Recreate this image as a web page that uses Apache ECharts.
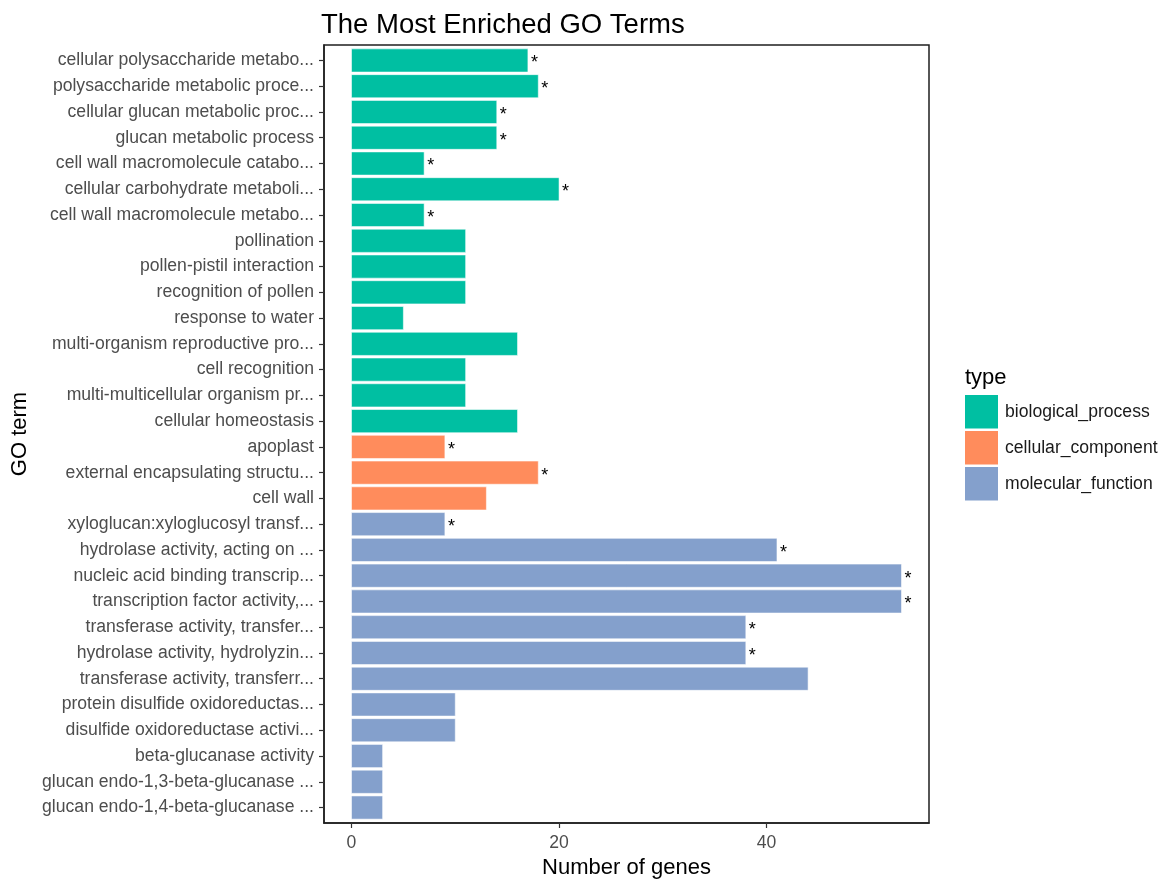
<!DOCTYPE html>
<html>
<head>
<meta charset="utf-8">
<title>The Most Enriched GO Terms</title>
<script src="https://cdn.jsdelivr.net/npm/echarts@6/dist/echarts.min.js"></script>
<style>
  html, body { margin: 0; padding: 0; background: #ffffff; }
  #chart { width: 1163px; height: 879px; }
</style>
</head>
<body>
<div id="chart"></div>
<script>
// GO terms, top to bottom
const terms = [
  'cellular polysaccharide metabo...',
  'polysaccharide metabolic proce...',
  'cellular glucan metabolic proc...',
  'glucan metabolic process',
  'cell wall macromolecule catabo...',
  'cellular carbohydrate metaboli...',
  'cell wall macromolecule metabo...',
  'pollination',
  'pollen-pistil interaction',
  'recognition of pollen',
  'response to water',
  'multi-organism reproductive pro...',
  'cell recognition',
  'multi-multicellular organism pr...',
  'cellular homeostasis',
  'apoplast',
  'external encapsulating structu...',
  'cell wall',
  'xyloglucan:xyloglucosyl transf...',
  'hydrolase activity, acting on ...',
  'nucleic acid binding transcrip...',
  'transcription factor activity,...',
  'transferase activity, transfer...',
  'hydrolase activity, hydrolyzin...',
  'transferase activity, transferr...',
  'protein disulfide oxidoreductas...',
  'disulfide oxidoreductase activi...',
  'beta-glucanase activity',
  'glucan endo-1,3-beta-glucanase ...',
  'glucan endo-1,4-beta-glucanase ...'
];

// Number of genes per term
const geneCounts = [17, 18, 14, 14, 7, 20, 7, 11, 11, 11, 5, 16, 11, 11, 16,
                    9, 18, 13,
                    9, 41, 53, 53, 38, 38, 44, 10, 10, 3, 3, 3];

// GO category of each term
const termTypes = [
  'biological_process', 'biological_process', 'biological_process', 'biological_process',
  'biological_process', 'biological_process', 'biological_process', 'biological_process',
  'biological_process', 'biological_process', 'biological_process', 'biological_process',
  'biological_process', 'biological_process', 'biological_process',
  'cellular_component', 'cellular_component', 'cellular_component',
  'molecular_function', 'molecular_function', 'molecular_function', 'molecular_function',
  'molecular_function', 'molecular_function', 'molecular_function', 'molecular_function',
  'molecular_function', 'molecular_function', 'molecular_function', 'molecular_function'
];

// 1 = significantly enriched (marked with *)
const significant = [1, 1, 1, 1, 1, 1, 1, 0, 0, 0, 0, 0, 0, 0, 0,
                     1, 1, 0,
                     1, 1, 1, 1, 1, 1, 0, 0, 0, 0, 0, 0];

const typeNames = ['biological_process', 'cellular_component', 'molecular_function'];
const typeColors = ['#00BFA2', '#FF8C5C', '#84A0CC'];

const xTicks = [0, 20, 40];

// axis ranges padded like ggplot's default expansion
const xMax = Math.max(...geneCounts);
const xPad = xMax * 0.05;
const yIdx = terms.map((_, i) => i);

const FONT = '"Liberation Sans", Arial, Helvetica, sans-serif';
const AXIS_COLOR = '#1f1f1f';

function renderBar(params, api) {
  const v = api.value(0);
  const i = api.value(1);
  const sig = api.value(2);
  const p0 = api.coord([0, i]);
  const p1 = api.coord([v, i]);
  const h = Math.abs(api.size([0, 0.9])[1]);
  const children = [{
    type: 'rect',
    shape: { x: p0[0], y: p0[1] - h / 2, width: p1[0] - p0[0], height: h },
    style: { fill: api.visual('color'), stroke: 'rgba(255,255,255,0.55)', lineWidth: 1 }
  }];
  if (sig) {
    children.push({
      type: 'text',
      x: p1[0] + 3,
      y: p1[1] + 3,
      style: {
        text: '*', fill: '#000000', font: '18px ' + FONT,
        textAlign: 'left', textVerticalAlign: 'middle'
      }
    });
  }
  return { type: 'group', children: children };
}

const series = typeNames.map((t, k) => ({
  name: t,
  type: 'custom',
  renderItem: renderBar,
  itemStyle: { color: typeColors[k] },
  encode: { x: 0, y: 1 },
  data: terms
    .map((_, i) => [geneCounts[i], i, significant[i], termTypes[i]])
    .filter(d => d[3] === t)
    .map(d => [d[0], d[1], d[2]])
}));

const chart = echarts.init(document.getElementById('chart'), null, { renderer: 'canvas' });

chart.setOption({
  backgroundColor: '#ffffff',
  animation: false,
  title: {
    text: 'The Most Enriched GO Terms',
    left: 316,
    top: 6,
    textStyle: { fontFamily: FONT, fontSize: 27.5, fontWeight: 'normal', color: '#000000' }
  },
  legend: {
    orient: 'vertical',
    left: 965,
    top: 395,
    padding: 0,
    icon: 'rect',
    itemWidth: 33,
    itemHeight: 33.5,
    itemGap: 2.5,
    selectedMode: false,
    data: typeNames,
    textStyle: { fontFamily: FONT, fontSize: 17.6, color: '#1a1a1a', padding: [0, 0, 0, 2] }
  },
  graphic: [{
    type: 'text',
    left: 965,
    top: 367,
    style: { text: 'type', font: '22px ' + FONT, fill: '#000000' }
  }],
  grid: {
    left: 324, right: 234, top: 45, bottom: 56,
    show: true, borderColor: AXIS_COLOR, borderWidth: 1.5,
    outerBoundsMode: 'none'
  },
  xAxis: {
    type: 'value',
    min: -xPad,
    max: xMax + xPad,
    name: 'Number of genes',
    nameLocation: 'middle',
    nameGap: 33,
    nameTextStyle: { fontFamily: FONT, fontSize: 22, color: '#000000' },
    axisLine: { show: true, onZero: false, lineStyle: { color: AXIS_COLOR, width: 1.5 } },
    splitLine: { show: false },
    axisTick: { show: true, customValues: xTicks, length: 5, lineStyle: { color: '#333333', width: 1.2 } },
    axisLabel: { customValues: xTicks, margin: 11, fontFamily: FONT, fontSize: 17.6, color: '#4D4D4D' }
  },
  yAxis: {
    type: 'value',
    inverse: true,
    min: -0.6,
    max: terms.length - 1 + 0.6,
    name: 'GO term',
    nameLocation: 'middle',
    nameRotate: 90,
    nameGap: 289,
    nameTextStyle: { fontFamily: FONT, fontSize: 22, color: '#000000' },
    axisLine: { show: true, onZero: false, lineStyle: { color: AXIS_COLOR, width: 1.5 } },
    splitLine: { show: false },
    axisTick: { show: true, customValues: yIdx, length: 5, lineStyle: { color: '#333333', width: 1.2 } },
    axisLabel: {
      customValues: yIdx,
      margin: 10,
      padding: [3, 0, 0, 0],
      fontFamily: FONT,
      fontSize: 17.6,
      color: '#4D4D4D',
      formatter: v => terms[Math.round(v)]
    }
  },
  series: series
});
</script>
</body>
</html>
